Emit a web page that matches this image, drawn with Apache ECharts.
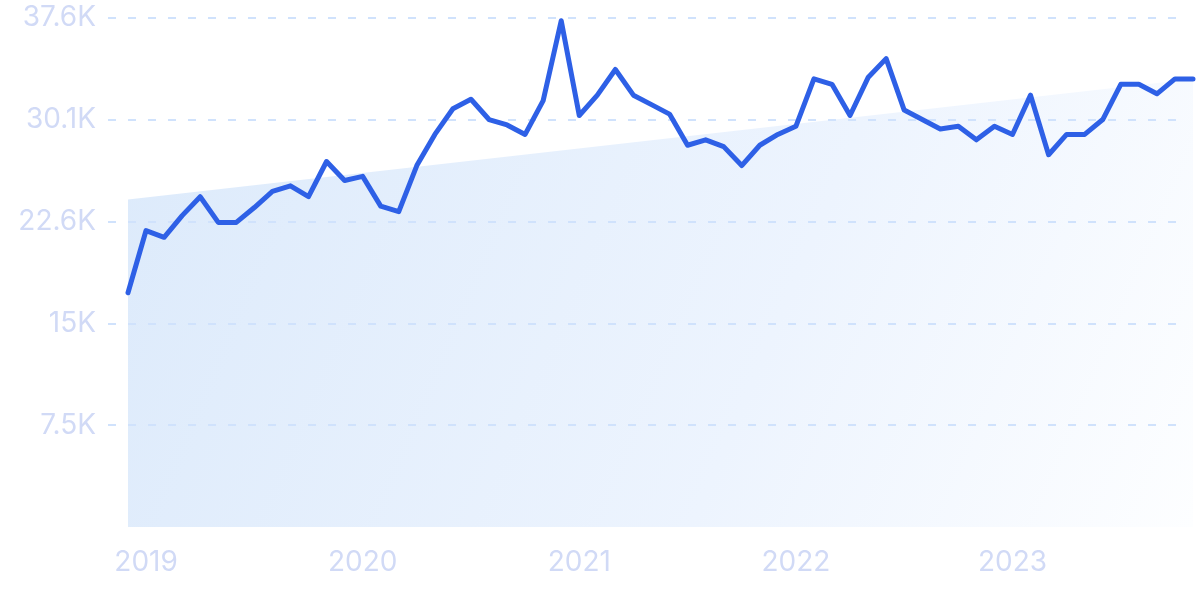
<!DOCTYPE html>
<html>
<head>
<meta charset="utf-8">
<script src="https://cdn.jsdelivr.net/npm/echarts@6/dist/echarts.min.js"></script>
<style>html,body{margin:0;padding:0;background:#fff}#c{width:1200px;height:599px}</style>
</head>
<body>
<div id="c"></div>
<script>
// Monthly categories Dec 2018 .. Nov 2023
const categories = [
  '2018-12',
  '2019-01','2019-02','2019-03','2019-04','2019-05','2019-06','2019-07','2019-08','2019-09','2019-10','2019-11','2019-12',
  '2020-01','2020-02','2020-03','2020-04','2020-05','2020-06','2020-07','2020-08','2020-09','2020-10','2020-11','2020-12',
  '2021-01','2021-02','2021-03','2021-04','2021-05','2021-06','2021-07','2021-08','2021-09','2021-10','2021-11','2021-12',
  '2022-01','2022-02','2022-03','2022-04','2022-05','2022-06','2022-07','2022-08','2022-09','2022-10','2022-11','2022-12',
  '2023-01','2023-02','2023-03','2023-04','2023-05','2023-06','2023-07','2023-08','2023-09','2023-10','2023-11'
];
const values = [
  17300,
  21900, 21400, 23000, 24400, 22500, 22500, 23600, 24800, 25200, 24400, 27000, 25600,
  25900, 23700, 23300, 26700, 29000, 30900, 31600, 30100, 29700, 29000, 31500, 37400,
  30400, 31900, 33800, 31900, 31200, 30500, 28200, 28600, 28100, 26700, 28200, 29000,
  29600, 33100, 32700, 30400, 33200, 34600, 30800, 30100, 29400, 29600, 28600, 29600,
  29000, 31900, 27500, 29000, 29000, 30100, 32700, 32700, 32000, 33100, 33100
];
// Trend line: start and end values
const trendStart = 24200;
const trendEnd = 33100;
const yTickLabels = ['', '7.5K', '15K', '22.6K', '30.1K', '37.6K'];
const yearLabels = {'2019-01':'2019','2020-01':'2020','2021-01':'2021','2022-01':'2022','2023-01':'2023'};

const chart = echarts.init(document.getElementById('c'));
const yMax = 37600, yInt = 7520;
chart.setOption({
  animation: false,
  grid: [
    {left: 108, right: 13, top: 18, bottom: 72},
    {left: 128, right: 7, top: 18, bottom: 72}
  ],
  xAxis: [
    {gridIndex: 0, type: 'value', min: 0, max: 1, show: false},
    {gridIndex: 1, type: 'category', data: categories, boundaryGap: false,
     axisLine: {show: false}, axisTick: {show: false}, splitLine: {show: false},
     axisLabel: {
       interval: 0, margin: 22,
       color: '#d1daf6', fontFamily: 'Inter', fontSize: 28,
       formatter: function (v) { return yearLabels[v] || ''; }
     }}
  ],
  yAxis: [
    {gridIndex: 0, type: 'value', min: 0, max: yMax, interval: yInt, z: 3,
     axisLine: {show: false}, axisTick: {show: false},
     axisLabel: {
       margin: 12, color: '#d1daf6', fontFamily: 'Inter', fontSize: 28,
       formatter: function (v) { return yTickLabels[Math.round(v / yInt)]; }
     },
     splitLine: {show: true, showMinLine: false,
       lineStyle: {color: '#d0e2fc', width: 2, type: [8, 12]}}},
    {gridIndex: 1, type: 'value', min: 0, max: yMax, interval: yInt, show: false,
     splitLine: {show: false}}
  ],
  series: [
    {
      type: 'line', xAxisIndex: 1, yAxisIndex: 1,
      data: [[0, trendStart], [categories.length - 1, trendEnd]],
      symbol: 'none', silent: true, z: 1,
      lineStyle: {width: 0, opacity: 0},
      areaStyle: {
        opacity: 1,
        color: {type: 'linear', x: 0, y: 0, x2: 1, y2: 1, colorStops: [
          {offset: 0, color: '#dceafb'},
          {offset: 0.6, color: '#edf4fe'},
          {offset: 1, color: '#fdfeff'}
        ]}
      }
    },
    {
      type: 'line', xAxisIndex: 1, yAxisIndex: 1,
      data: values, symbol: 'none', z: 5, clip: false,
      lineStyle: {color: '#2e60e6', width: 5, join: 'round', cap: 'round'}
    }
  ]
});
</script>
</body>
</html>
